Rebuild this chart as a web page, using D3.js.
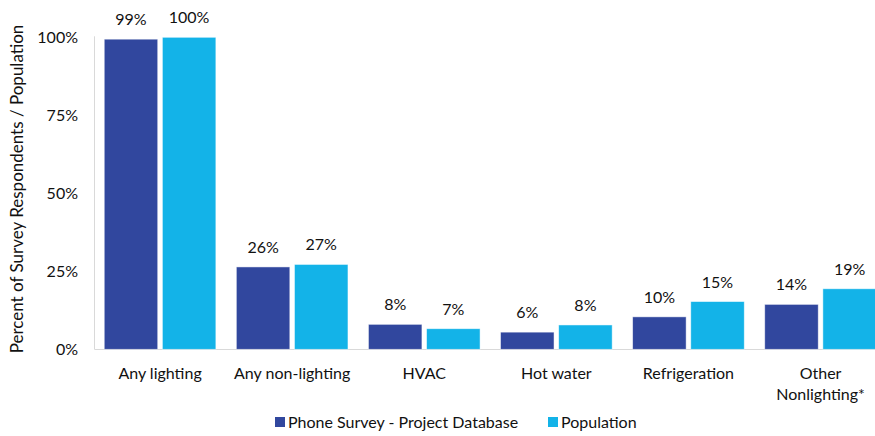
<!DOCTYPE html>
<html><head><meta charset="utf-8">
<script src="https://cdn.jsdelivr.net/npm/d3@7"></script>
<style>body{margin:0;background:#fff}svg{display:block;font-family:Lato,"Open Sans",sans-serif}</style>
</head><body>
<svg id="c" width="875" height="436"></svg>
<script>
const categories = ["Any lighting", "Any non-lighting", "HVAC", "Hot water", "Refrigeration", "Other\nNonlighting*"];
const seriesNames = ["Phone Survey - Project Database", "Population"];
const phoneSurvey = [0.994, 0.264, 0.080, 0.055, 0.104, 0.144];
const population = [1.000, 0.272, 0.066, 0.078, 0.153, 0.194];
const yTicks = [0, 0.25, 0.5, 0.75, 1.0];
const colors = ["#31479E", "#13B3E8"];

const svg = d3.select("#c");
const x0 = d3.scaleBand().domain(categories).range([94, 886.6]).paddingInner(0.155).paddingOuter(0.0775);
const x1 = d3.scaleBand().domain([0,1]).range([0, x0.bandwidth()]).paddingInner(0.08);
const y = d3.scaleLinear().domain([0, 1]).range([349.3, 37.3]);
const fs = 16;

svg.append("line").attr("x1",94.5).attr("x2",94.5).attr("y1",y(1)-1).attr("y2",y(0)).attr("stroke","#d9d9d9");
svg.append("line").attr("x1",94.5).attr("x2",875).attr("y1",349.5).attr("y2",349.5).attr("stroke","#d9d9d9");

const yAxis = d3.axisLeft(y).tickValues(yTicks).tickFormat(d3.format(".0%")).tickSize(0).tickPadding(0);
const ga = svg.append("g").attr("transform","translate(78,0)").call(yAxis);
ga.select(".domain").remove();
ga.selectAll("text").attr("font-size",fs).attr("fill","#111").attr("font-family","Lato");

const data = [phoneSurvey, population];
const g = svg.append("g");
categories.forEach((c, i) => {
  data.forEach((s, j) => {
    const bx = x0(c) + x1(j);
    g.append("rect").attr("x", bx).attr("y", y(s[i])).attr("width", x1.bandwidth()).attr("height", y(0) - y(s[i]))
      .attr("fill", colors[j]).attr("stroke","#fff").attr("stroke-opacity",0.6).attr("stroke-width",0.8);
    g.append("text").attr("x", bx + x1.bandwidth()/2).attr("y", y(s[i]) - 14).attr("text-anchor","middle")
      .attr("font-size",fs).attr("fill","#111").text(d3.format(".0%")(s[i]));
  });
  const lines = c.split("\n");
  const t = g.append("text").attr("x", x0(c) + x0.bandwidth()/2).attr("y", 379).attr("text-anchor","middle").attr("font-size",fs).attr("fill","#111");
  lines.forEach((l, k) => t.append("tspan").attr("x", x0(c) + x0.bandwidth()/2).attr("dy", k ? 21 : 0).text(l));
});

svg.append("text").attr("transform","translate(23,189) rotate(-90)").attr("text-anchor","middle")
  .attr("font-size",17).attr("fill","#111").text("Percent of Survey Respondents / Population");

const legX = [275, 548];
seriesNames.forEach((n, j) => {
  svg.append("rect").attr("x", legX[j]).attr("y", 417).attr("width", 10).attr("height", 10).attr("fill", colors[j]);
  svg.append("text").attr("x", legX[j] + 13).attr("y", 427.5).attr("font-size",fs).attr("fill","#111").text(n);
});
</script>
</body></html>
